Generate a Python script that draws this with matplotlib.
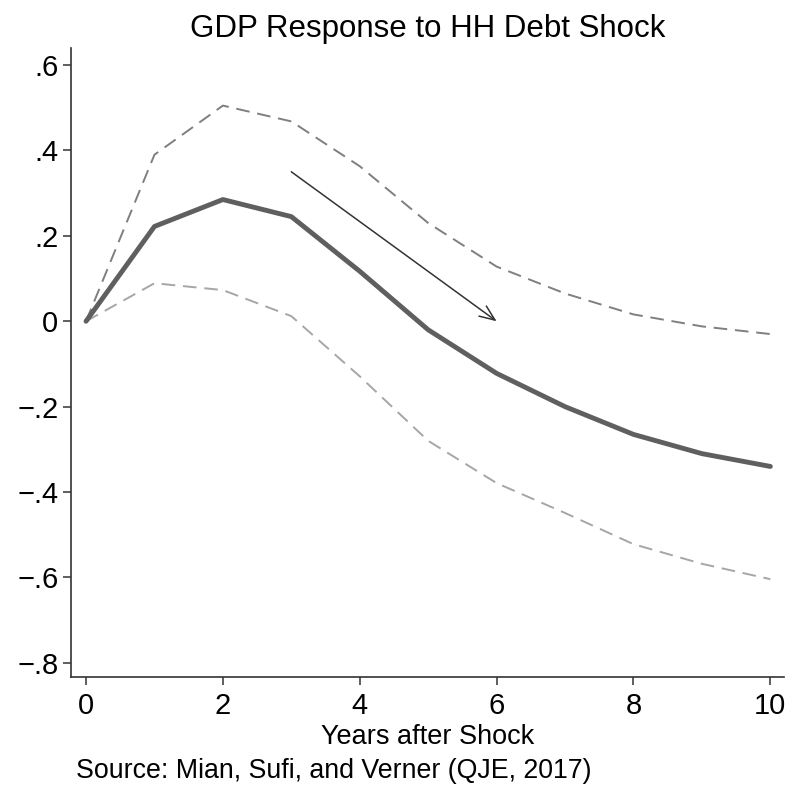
import matplotlib.pyplot as plt
import numpy as np

plt.rcParams['font.family'] = ['Liberation Sans', 'DejaVu Sans']

years = [0, 1, 2, 3, 4, 5, 6, 7, 8, 9, 10]
gdp = [0.0, 0.222, 0.285, 0.245, 0.117, -0.02, -0.122, -0.2, -0.265, -0.31, -0.34]
upper = [0.0, 0.39, 0.505, 0.468, 0.363, 0.23, 0.128, 0.065, 0.016, -0.012, -0.03]
lower = [0.0, 0.089, 0.073, 0.012, -0.129, -0.28, -0.379, -0.449, -0.522, -0.568, -0.604]

yticks = [0.6, 0.4, 0.2, 0.0, -0.2, -0.4, -0.6, -0.8]
ytick_labels = [".6", ".4", ".2", "0", "\u2212.2", "\u2212.4", "\u2212.6", "\u2212.8"]
xticks = [0, 2, 4, 6, 8, 10]

fig = plt.figure(figsize=(7.93, 7.86), dpi=100)
ax = fig.add_axes([0.0895, 0.1387, 0.8992, 0.8003])

ax.plot(years, upper, color="#7f7f7f", lw=1.4, dashes=(7, 4))
ax.plot(years, lower, color="#a6a6a6", lw=1.4, dashes=(7, 4))
ax.plot(years, gdp, color="#5f5f5f", lw=3.5, solid_joinstyle="round", solid_capstyle="round")

ax.annotate("", xy=(6, 0.0), xytext=(3, 0.35),
            arrowprops=dict(arrowstyle="->,head_length=1.1,head_width=0.45",
                            color="#333333", lw=1.1, shrinkA=0, shrinkB=0))

ax.set_xlim(-0.22, 10.2)
ax.set_ylim(-0.833, 0.64)
ax.set_xticks(xticks)
ax.set_xticklabels([str(x) for x in xticks], fontsize=21)
ax.set_yticks(yticks)
ax.set_yticklabels(ytick_labels, fontsize=21)
ax.tick_params(axis="y", length=6, width=1.1, color="#333333", pad=3)
ax.tick_params(axis="x", length=6, width=1.1, color="#333333", pad=5)

for side in ["top", "right"]:
    ax.spines[side].set_visible(False)
for side in ["left", "bottom"]:
    ax.spines[side].set_color("#333333")
    ax.spines[side].set_linewidth(1.2)

ax.set_title("GDP Response to HH Debt Shock", fontsize=22.5, pad=8)
ax.set_xlabel("Years after Shock", fontsize=19.5, labelpad=3)
fig.text(0.096, 1 - 778 / 786, "Source: Mian, Sufi, and Verner (QJE, 2017)",
         fontsize=19.3, ha="left", va="baseline")

fig.savefig("out.png", dpi=100)
